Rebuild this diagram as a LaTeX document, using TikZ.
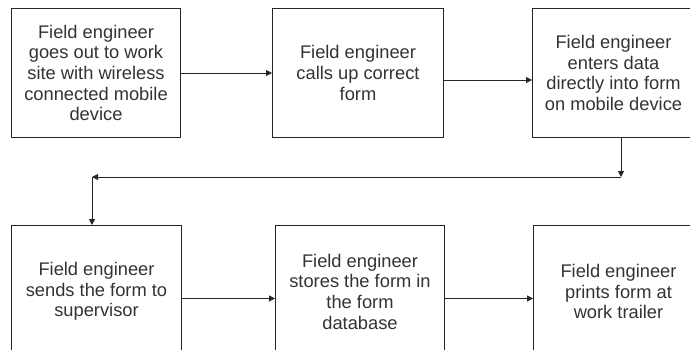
\documentclass[tikz,border=0pt]{standalone}
\usepackage{fontspec}
\setmainfont{Liberation Sans}
\usepackage{tikz}
\usetikzlibrary{arrows.meta,positioning,calc}
\tikzset{
	stepbox/.style={draw=black!85, line width=1pt, anchor=north west,
		minimum width=170pt, minimum height=129pt, align=center,
		inner sep=2pt, text=black!80, font=\fontsize{18.3}{20.7}\selectfont},
	flow/.style={draw=black!85, line width=1pt, ->},
}

\begin{document}
\begin{tikzpicture}[x=1pt, y=-1pt, >={Triangle[length=6pt,width=6pt]}]
				\useasboundingbox (0,0) rectangle (690,349);
				\clip (0,0) rectangle (690,349);
				% top row
				\node[stepbox, minimum width=169pt] at (11,8) (gosite) {Field engineer\\goes out to work\\site with wireless\\connected mobile\\device};
				\node[stepbox, minimum width=171pt] at (272,8) (callform) {Field engineer\\calls up correct\\form};
				\node[stepbox, minimum width=162pt] at (532,8) (enterdata) {Field engineer\\enters data\\directly into form\\on mobile device};
				% bottom row
				\node[stepbox, minimum height=132pt] at (11,225) (sendform) {Field engineer\\sends the form to\\supervisor};
				\node[stepbox, minimum height=132pt, minimum width=169pt] at (275,225) (storeform) {Field engineer\\stores the form in\\the form\\database};
				\node[stepbox, minimum height=132pt] at (533,225) (printform) {Field engineer\\prints form at\\work trailer};
				% return path between the rows
				\coordinate (turnR) at (621,177);
				\coordinate (turnL) at (92,177);
				\draw[flow] (gosite.east) -- (callform.west);
				\draw[flow] ([yshift=-7pt]callform.east) -- ([yshift=-7pt]enterdata.west);
				\draw[flow] (turnR |- enterdata.south) -- (turnR);
				\draw[flow] (turnR) -- (turnL);
				\draw[flow] (turnL) -- (turnL |- sendform.north);
				\draw[flow] ([yshift=-7pt]sendform.east) -- ([yshift=-7pt]storeform.west);
				\draw[flow] ([yshift=-7pt]storeform.east) -- ([yshift=-7pt]printform.west);
			\end{tikzpicture}
\end{document}
